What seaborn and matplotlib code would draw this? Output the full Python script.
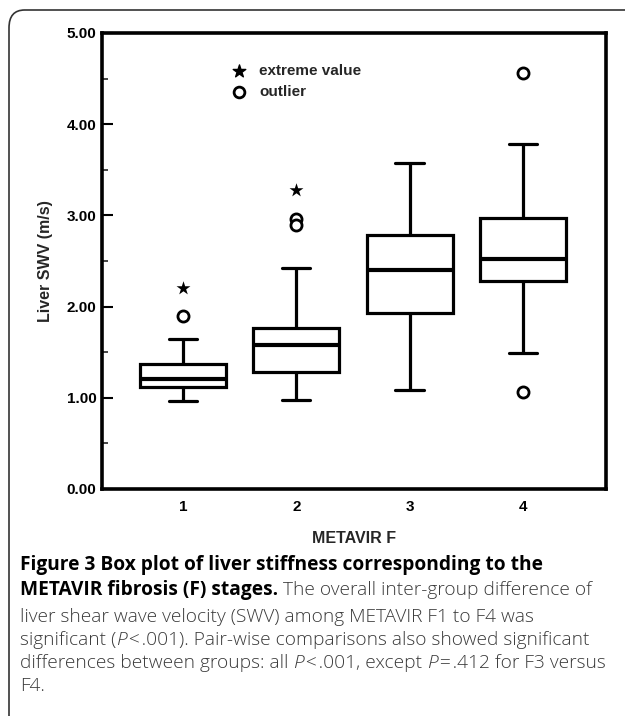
import seaborn as sns
import matplotlib.pyplot as plt
import pandas as pd
import numpy as np
from matplotlib.patches import FancyBboxPatch
from matplotlib.ticker import MultipleLocator, FormatStrFormatter

sns.set_theme(style="ticks")
plt.rcParams['font.family'] = ['Liberation Sans', 'DejaVu Sans']

# five-number summaries (m/s)
stages = ["1", "2", "3", "4"]
whisker_low = [0.96, 0.98, 1.085, 1.49]
q1 = [1.12, 1.28, 1.93, 2.28]
median = [1.21, 1.58, 2.40, 2.52]
q3 = [1.37, 1.76, 2.785, 2.975]
whisker_high = [1.65, 2.42, 3.57, 3.78]

# outliers (circles) and extreme values (stars)
outlier_stage = ["1", "2", "2", "4", "4"]
outlier_swv = [1.90, 2.96, 2.89, 4.56, 1.06]
extreme_stage = ["1", "2"]
extreme_swv = [2.20, 3.28]

# long table: one row per summary value, whiskers drawn min..max
rows = []
for i, s in enumerate(stages):
    for v in [whisker_low[i], q1[i], median[i], q3[i], whisker_high[i]]:
        rows.append({"stage": s, "swv": v})
data = pd.DataFrame(rows)

fig = plt.figure(figsize=(6.25, 7.16), dpi=100)
ax = fig.add_axes([102 / 625, 1 - 489 / 716, 504 / 625, 456 / 716])

sns.boxplot(data=data, x="stage", y="swv", order=stages, whis=(0, 100),
            width=0.76, color="white", linecolor="black", linewidth=2.3,
            fliersize=0, medianprops={"linewidth": 3}, capwidths=0.25, ax=ax)

sns.stripplot(x=outlier_stage, y=outlier_swv, order=stages, jitter=False,
              marker="o", size=8, color="white", edgecolor="black",
              linewidth=2, ax=ax, zorder=5)
sns.stripplot(x=extreme_stage, y=extreme_swv, order=stages, jitter=False,
              marker="*", size=10.5, color="black", ax=ax, zorder=5)

ax.set_xlim(-0.715, 3.733)
ax.set_ylim(0, 5)
ax.yaxis.set_major_locator(MultipleLocator(1))
ax.yaxis.set_minor_locator(MultipleLocator(0.5))
ax.yaxis.set_major_formatter(FormatStrFormatter("%.2f"))
ax.tick_params(axis="y", which="major", direction="in", length=8, width=1.5,
               pad=4, labelsize=11, colors="black")
ax.tick_params(axis="y", which="minor", direction="in", length=4, width=1.2)
ax.tick_params(axis="x", length=0, pad=8, labelsize=11, colors="black")
for lab in ax.get_xticklabels() + ax.get_yticklabels():
    lab.set_fontweight("bold")
for sp in ax.spines.values():
    sp.set_visible(True)
    sp.set_linewidth(2.6)
    sp.set_color("black")

ax.set_xlabel("METAVIR F", fontsize=11.5, fontweight="bold", labelpad=12)
ax.set_ylabel("Liver SWV (m/s)", fontsize=11.5, fontweight="bold", labelpad=10)

# key for the marker symbols
ax.scatter([0.2718], [0.917], marker="*", s=90, color="black",
           transform=ax.transAxes)
ax.scatter([0.2718], [0.8706], marker="o", s=60, facecolor="white",
           edgecolor="black", linewidth=2, transform=ax.transAxes)
ax.text(0.3115, 0.917, "extreme value", transform=ax.transAxes,
        fontsize=11, fontweight="bold", va="center")
ax.text(0.3115, 0.8706, "outlier", transform=ax.transAxes,
        fontsize=11, fontweight="bold", va="center")

# rounded frame around figure and caption
frame = FancyBboxPatch((9 / 625, -0.05), 1.2, 1 - 10 / 716 + 0.05,
                       boxstyle="round,pad=0,rounding_size=0.025",
                       transform=fig.transFigure, facecolor="none",
                       edgecolor="#333333", linewidth=1.2)
fig.patches.append(frame)

# caption, drawn piece by piece so bold / italic runs can sit on one line
cap_font = ["Open Sans", "DejaVu Sans"]
cap_size = 13.8
bold_size = 13.8
renderer = fig.canvas.get_renderer()


def caption_line(pieces, y_px):
    x = 20
    for txt, style in pieces:
        kw = dict(fontsize=cap_size, family=cap_font, color="#3a3a3a",
                  fontweight="light")
        if style == "b":
            kw.update(fontweight="bold", fontsize=bold_size, color="black")
        elif style == "i":
            kw.update(style="italic")
        t = fig.text(x / 625, 1 - y_px / 716, txt, va="center", **kw)
        x += t.get_window_extent(renderer).width


caption_line([("Figure 3 Box plot of liver stiffness corresponding to the", "b")], 565)
caption_line([("METAVIR fibrosis (F) stages.", "b"),
              (" The overall inter-group difference of", "r")], 590)
caption_line([("liver shear wave velocity (SWV) among METAVIR F1 to F4 was", "r")], 617)
caption_line([("significant (", "r"), ("P", "i"), ("\u200a<\u200a.001). Pair-wise comparisons also showed significant", "r")], 640)
caption_line([("differences between groups: all ", "r"), ("P", "i"),
              ("\u200a<\u200a.001, except ", "r"), ("P", "i"),
              ("\u200a=\u200a.412 for F3 versus", "r")], 663)
caption_line([("F4.", "r")], 686)

fig.savefig("out.png", dpi=100)
